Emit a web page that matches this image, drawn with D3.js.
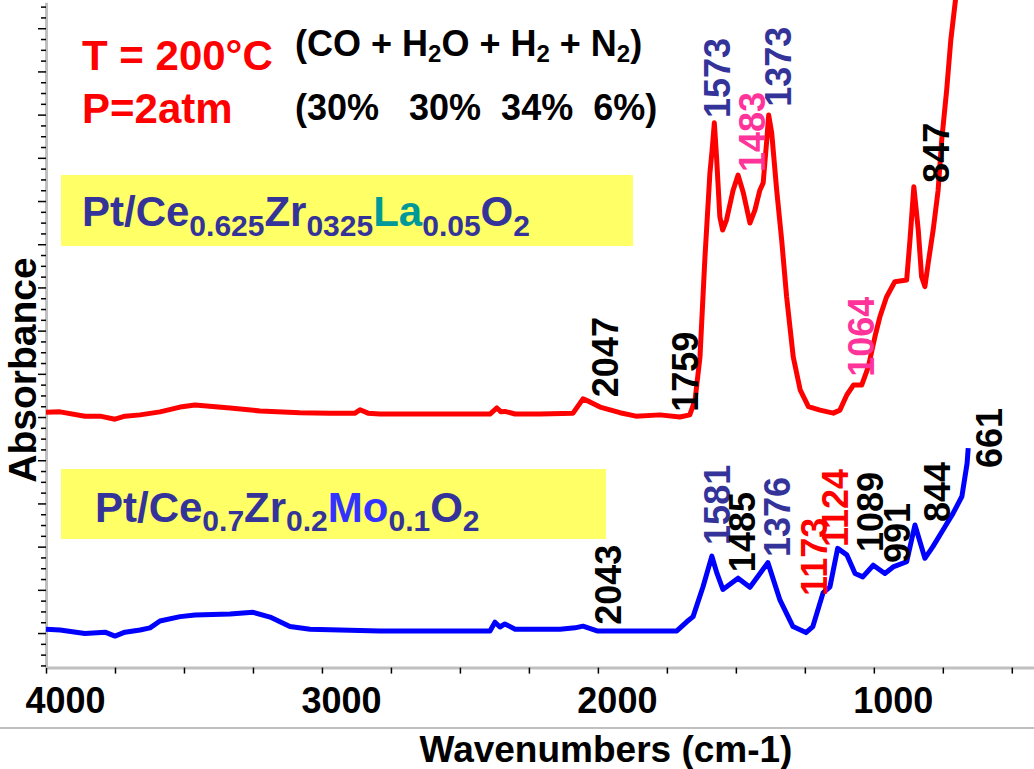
<!DOCTYPE html>
<html>
<head>
<meta charset="utf-8">
<script src="https://cdn.jsdelivr.net/npm/d3@7"></script>
<style>
    body { margin: 0; background: #fff; }
    text { font-family: "Liberation Sans", Arial, sans-serif; font-weight: bold; }
</style>
</head>
<body>
<div id="chart"></div>
<script>
/*
    FTIR spectra of the two catalysts under the WGS feed (CO + H2O + H2 + N2)
*/

// [wavenumber (cm-1), absorbance]
const laSpectrum = [
    [4000, 0.511], [3949, 0.512], [3859, 0.502], [3804, 0.502], [3750, 0.495], [3714, 0.502],
    [3659, 0.505], [3587, 0.512], [3514, 0.523], [3460, 0.528], [3333, 0.521], [3224, 0.514],
    [3080, 0.510], [2971, 0.509], [2880, 0.509], [2862, 0.517], [2833, 0.509], [2790, 0.507],
    [2391, 0.507], [2366, 0.521], [2351, 0.512], [2337, 0.513], [2300, 0.507], [2210, 0.507],
    [2090, 0.509], [2054, 0.542], [2029, 0.535], [1992, 0.523], [1920, 0.510], [1862, 0.502],
    [1775, 0.505], [1703, 0.500], [1667, 0.505], [1648, 0.539], [1630, 0.639], [1612, 0.870],
    [1594, 1.065], [1586, 1.118], [1578, 1.181], [1570, 1.102], [1558, 0.963], [1548, 0.933],
    [1534, 0.956], [1510, 1.025], [1492, 1.060], [1473, 1.019], [1449, 0.949], [1431, 0.979],
    [1413, 1.025], [1401, 1.042], [1388, 1.141], [1381, 1.199], [1370, 1.157], [1352, 1.025],
    [1334, 0.910], [1316, 0.778], [1292, 0.639], [1267, 0.563], [1237, 0.524], [1195, 0.516],
    [1147, 0.509], [1123, 0.516], [1098, 0.551], [1074, 0.574], [1044, 0.574], [1020, 0.616],
    [996, 0.686], [978, 0.732], [954, 0.778], [924, 0.813], [881, 0.817], [869, 0.910],
    [855, 1.033], [839, 0.933], [827, 0.825], [815, 0.802], [803, 0.856], [785, 0.933],
    [767, 1.025], [754, 1.141], [736, 1.257], [721, 1.373], [702, 1.477]
];

const moSpectrum = [
    [4000, 0.009], [3949, 0.007], [3859, -0.001], [3786, 0.002], [3750, -0.007], [3714, 0.002],
    [3659, 0.007], [3623, 0.012], [3587, 0.028], [3514, 0.038], [3460, 0.042], [3333, 0.044],
    [3250, 0.048], [3188, 0.037], [3116, 0.015], [3043, 0.009], [2935, 0.007], [2790, 0.005],
    [2391, 0.005], [2373, 0.025], [2355, 0.014], [2337, 0.021], [2300, 0.009], [2137, 0.009],
    [2083, 0.012], [2054, 0.016], [2003, 0.005], [1847, 0.005], [1714, 0.005], [1678, 0.026],
    [1655, 0.038], [1619, 0.107], [1587, 0.178], [1569, 0.139], [1547, 0.101], [1492, 0.127],
    [1449, 0.106], [1384, 0.163], [1340, 0.076], [1293, 0.015], [1246, 0.001], [1221, 0.015],
    [1184, 0.093], [1159, 0.107], [1131, 0.196], [1098, 0.181], [1068, 0.138], [1040, 0.130],
    [1002, 0.157], [960, 0.138], [930, 0.153], [881, 0.165], [851, 0.250], [815, 0.173],
    [786, 0.200], [750, 0.238], [713, 0.277], [681, 0.316], [662, 0.393], [658, 0.428]
];

const xTickLabels = [4000, 3000, 2000, 1000];

// peak label, anchored (bottom of the rotated text) at [wavenumber, absorbance]
const laPeaks = [
    ["2047", 1927, 0.546], ["1759", 1637, 0.512], ["1573", 1521, 1.192], ["1483", 1394, 1.067],
    ["1373", 1300, 1.218], ["1064", 999, 0.593], ["847", 728, 1.042]
];
const moPeaks = [
    ["2043", 1916, 0.019], ["1581", 1521, 0.204], ["1485", 1431, 0.141], ["1376", 1304, 0.176],
    ["1173", 1170, 0.086], ["1124", 1094, 0.199], ["1089", 967, 0.1875], ["991", 869, 0.162],
    ["844", 724, 0.257], ["661", 535, 0.382]
];

const peakColors = {
    "1573": "#333399", "1373": "#333399", "1581": "#333399", "1376": "#333399",
    "1483": "#ff3399", "1064": "#ff3399",
    "1173": "#ff0000", "1124": "#ff0000"
};

const laFormula = [["Pt/Ce", ""], ["0.625", "sub"], ["Zr", ""], ["0325", "sub"], ["La", "", "#009999"], ["0.05", "sub"], ["O", ""], ["2", "sub"]];
const moFormula = [["Pt/Ce", ""], ["0.7", "sub"], ["Zr", ""], ["0.2", "sub"], ["Mo", "", "#3333ff"], ["0.1", "sub"], ["O", ""], ["2", "sub"]];
const feedGases = [["(CO + H", ""], ["2", "sub"], ["O + H", ""], ["2", "sub"], [" + N", ""], ["2", "sub"], [")", ""]];


SpectraChart = function(_parentElement) {
    this.parentElement = _parentElement;
    this.initVis();
}

SpectraChart.prototype.initVis = function() {
    let vis = this;

    vis.width = 1034;
    vis.height = 769;

    vis.svg = d3.select("#" + vis.parentElement)
        .append("svg")
        .attr("width", vis.width)
        .attr("height", vis.height);

    vis.x = d3.scaleLinear().domain([4000, 400]).range([46, 1039.4]);
    vis.y = d3.scaleLinear().domain([-0.08, 1.46]).range([667.6, 2.3]);

    vis.line = d3.line()
        .x(d => vis.x(d[0]))
        .y(d => vis.y(d[1]));

    vis.drawAxes();
    vis.drawBoxes();
    vis.updateVis();
}

SpectraChart.prototype.drawAxes = function() {
    let vis = this;

    // bottom frame line
    vis.svg.append("line")
        .attr("x1", 0).attr("x2", vis.width)
        .attr("y1", 728).attr("y2", 728)
        .attr("stroke", "#c0c0c0")
        .attr("stroke-width", 2);

    let xAxis = d3.axisBottom(vis.x)
        .tickValues(d3.range(4000, 399, -250))
        .tickSize(6)
        .tickSizeOuter(0)
        .tickFormat(d => xTickLabels.includes(d) ? d : "");

    let gx = vis.svg.append("g")
        .attr("transform", "translate(0," + vis.y(-0.08) + ")")
        .call(xAxis);
    gx.select(".domain").attr("stroke", "#c0c0c0").attr("stroke-width", 3);
    gx.selectAll(".tick line").attr("stroke", "#000").attr("stroke-width", 1.5);
    gx.selectAll(".tick text")
        .attr("y", 20)
        .attr("dx", 19)
        .attr("fill", "#000")
        .style("font-size", "36px");

    let yAxis = d3.axisLeft(vis.y)
        .tickValues(d3.range(-3, 59).map(i => i * 0.025))
        .tickSizeOuter(0)
        .tickFormat("");

    let gy = vis.svg.append("g")
        .attr("transform", "translate(" + vis.x(4000) + ",0)")
        .call(yAxis);
    gy.select(".domain").attr("stroke", "#c0c0c0").attr("stroke-width", 3);
    gy.selectAll(".tick line")
        .attr("stroke", "#000")
        .attr("stroke-width", 1.5)
        .attr("x2", d => Math.abs(d * 10 - Math.round(d * 10)) < 1e-6 ? -8 : -5);

    vis.svg.append("text")
        .attr("x", 606)
        .attr("y", 762)
        .attr("text-anchor", "middle")
        .style("font-size", "37px")
        .text("Wavenumbers (cm-1)");

    vis.svg.append("text")
        .attr("transform", "translate(36,370) rotate(-90)")
        .attr("text-anchor", "middle")
        .style("font-size", "39px")
        .text("Absorbance");
}

SpectraChart.prototype.drawBoxes = function() {
    let vis = this;

    vis.svg.append("rect")
        .attr("x", 61).attr("y", 175)
        .attr("width", 572).attr("height", 71)
        .attr("fill", "#ffff66");
    vis.svg.append("rect")
        .attr("x", 61).attr("y", 469)
        .attr("width", 545).attr("height", 70)
        .attr("fill", "#ffff66");

    vis.richText(82, 226, laFormula, 42, 30, 10, "#333399");
    vis.richText(95, 522, moFormula, 42, 30, 9, "#333399");

    vis.svg.append("text")
        .attr("x", 82).attr("y", 70)
        .attr("fill", "#ff0000")
        .style("font-size", "42px")
        .text("T = 200°C");
    vis.svg.append("text")
        .attr("x", 82).attr("y", 123)
        .attr("fill", "#ff0000")
        .style("font-size", "42px")
        .text("P=2atm");

    vis.richText(295, 56, feedGases, 36, 24, 6, "#000");
    vis.svg.append("text")
        .attr("x", 295).attr("y", 120)
        .attr("xml:space", "preserve")
        .style("white-space", "pre")
        .style("font-size", "36px")
        .text("(30%   30%  34%  6%)");
}

// text with subscripts, parts = [string, "sub" or "", colour]
SpectraChart.prototype.richText = function(x, y, parts, size, subSize, shift, color) {
    let vis = this;

    let t = vis.svg.append("text")
        .attr("x", x).attr("y", y)
        .attr("xml:space", "preserve")
        .style("white-space", "pre")
        .attr("fill", color)
        .style("font-size", size + "px");

    let prevSub = false;
    parts.forEach(p => {
        let isSub = p[1] == "sub";
        let dy = isSub && !prevSub ? shift : (!isSub && prevSub ? -shift : 0);
        t.append("tspan")
            .attr("dy", dy)
            .attr("fill", p[2] || color)
            .style("font-size", (isSub ? subSize : size) + "px")
            .text(p[0]);
        prevSub = isSub;
    });
}

SpectraChart.prototype.updateVis = function() {
    let vis = this;

    vis.svg.append("path")
        .datum(laSpectrum)
        .attr("d", vis.line)
        .attr("fill", "none")
        .attr("stroke", "#ff0000")
        .attr("stroke-width", 5)
        .attr("stroke-linejoin", "round");

    vis.svg.append("path")
        .datum(moSpectrum)
        .attr("d", vis.line)
        .attr("fill", "none")
        .attr("stroke", "#0000ff")
        .attr("stroke-width", 5)
        .attr("stroke-linejoin", "round");

    vis.svg.selectAll(".peak")
        .data(laPeaks.concat(moPeaks))
        .enter()
        .append("text")
        .attr("class", "peak")
        .attr("transform", d => "translate(" + vis.x(d[1]) + "," + vis.y(d[2]) + ") rotate(-90)")
        .attr("fill", d => peakColors[d[0]] || "#000")
        .style("font-size", "36px")
        .text(d => d[0]);
}

new SpectraChart("chart");
</script>
</body>
</html>
